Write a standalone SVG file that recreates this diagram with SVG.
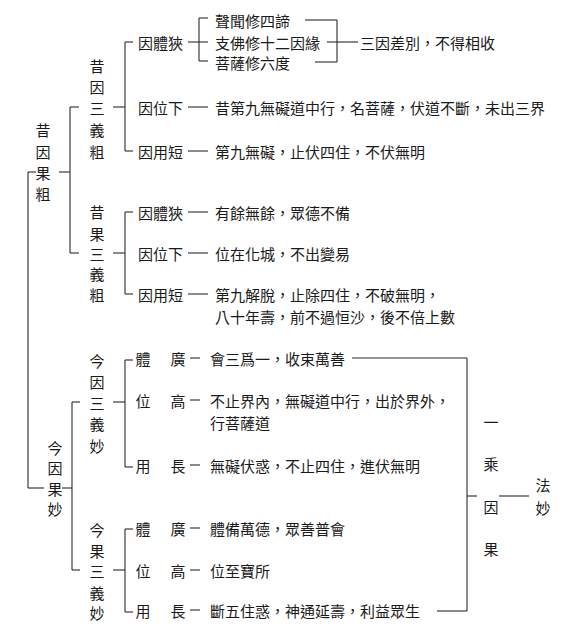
<svg xmlns="http://www.w3.org/2000/svg" width="574" height="639" viewBox="0 0 574 639">
<style>
text{font-family:"Noto Sans CJK TC","Noto Sans CJK SC",sans-serif;font-size:15px;fill:#1a1a1a;dominant-baseline:central}
.m{text-anchor:middle}
.c line{stroke:#2a2a2a;stroke-width:1.1}
</style>
<rect width="574" height="639" fill="#fff"/>
<g class="c" id="connectors">
<line x1="28" y1="172" x2="28" y2="488"/>
<line x1="28" y1="172" x2="36" y2="172"/>
<line x1="28" y1="488" x2="44" y2="488"/>
<line x1="59" y1="172" x2="70" y2="172"/>
<line x1="70" y1="107" x2="70" y2="253"/>
<line x1="70" y1="107" x2="79" y2="107"/>
<line x1="70" y1="253" x2="79" y2="253"/>
<line x1="113" y1="107" x2="125" y2="107"/>
<line x1="125" y1="42" x2="125" y2="151"/>
<line x1="125" y1="42" x2="133" y2="42"/>
<line x1="125" y1="151" x2="133" y2="151"/>
<line x1="188" y1="42" x2="208" y2="42"/>
<line x1="199" y1="18" x2="199" y2="61"/>
<line x1="199" y1="18" x2="208" y2="18"/>
<line x1="199" y1="61" x2="208" y2="61"/>
<line x1="305" y1="20" x2="337" y2="20"/>
<line x1="315" y1="62" x2="337" y2="62"/>
<line x1="337" y1="20" x2="337" y2="62"/>
<line x1="327" y1="42" x2="358" y2="42"/>
<line x1="188" y1="107" x2="208" y2="107"/>
<line x1="188" y1="151" x2="208" y2="151"/>
<line x1="113" y1="253" x2="125" y2="253"/>
<line x1="125" y1="212" x2="125" y2="294"/>
<line x1="125" y1="212" x2="133" y2="212"/>
<line x1="125" y1="294" x2="133" y2="294"/>
<line x1="188" y1="212" x2="208" y2="212"/>
<line x1="188" y1="253" x2="208" y2="253"/>
<line x1="188" y1="294" x2="208" y2="294"/>
<line x1="62" y1="488" x2="72" y2="488"/>
<line x1="72" y1="402" x2="72" y2="570"/>
<line x1="72" y1="402" x2="80" y2="402"/>
<line x1="72" y1="570" x2="80" y2="570"/>
<line x1="113" y1="402" x2="125" y2="402"/>
<line x1="125" y1="360" x2="125" y2="467"/>
<line x1="125" y1="360" x2="133" y2="360"/>
<line x1="125" y1="467" x2="133" y2="467"/>
<line x1="190" y1="358" x2="200" y2="358"/>
<line x1="190" y1="400" x2="200" y2="400"/>
<line x1="190" y1="465" x2="200" y2="465"/>
<line x1="113" y1="570" x2="125" y2="570"/>
<line x1="125" y1="529" x2="125" y2="612"/>
<line x1="125" y1="529" x2="133" y2="529"/>
<line x1="125" y1="612" x2="133" y2="612"/>
<line x1="190" y1="528" x2="200" y2="528"/>
<line x1="190" y1="570" x2="200" y2="570"/>
<line x1="190" y1="610" x2="200" y2="610"/>
<line x1="352" y1="358" x2="467" y2="358"/>
<line x1="467" y1="358" x2="467" y2="611"/>
<line x1="437" y1="611" x2="467" y2="611"/>
<line x1="467" y1="496" x2="477" y2="496"/>
<line x1="499" y1="496" x2="529" y2="496"/>
</g>
<g id="n-xiyinguocu"><text class="m" x="43" y="129">昔</text><text class="m" x="43" y="151">因</text><text class="m" x="43" y="172">果</text><text class="m" x="43" y="193">粗</text></g>
<g id="n-xiyin"><text class="m" x="97" y="65">昔</text><text class="m" x="97" y="86">因</text><text class="m" x="97" y="107">三</text><text class="m" x="97" y="129">義</text><text class="m" x="97" y="151">粗</text></g>
<g id="n-xiyin-ti"><text x="138" y="42">因體狹</text></g>
<g id="n-shengwen"><text x="215" y="20">聲聞修四諦</text></g>
<g id="n-zhifo"><text x="215" y="42">支佛修十二因緣</text></g>
<g id="n-pusa"><text x="215" y="62">菩薩修六度</text></g>
<g id="n-sanyin"><text x="360" y="42">三因差別，不得相收</text></g>
<g id="n-xiyin-wei"><text x="138" y="107">因位下</text><text x="215" y="107">昔第九無礙道中行，名菩薩，伏道不斷，未出三界</text></g>
<g id="n-xiyin-yong"><text x="138" y="151">因用短</text><text x="215" y="151">第九無礙，止伏四住，不伏無明</text></g>
<g id="n-xiguo"><text class="m" x="97" y="211">昔</text><text class="m" x="97" y="233">果</text><text class="m" x="97" y="253">三</text><text class="m" x="97" y="273">義</text><text class="m" x="97" y="294">粗</text></g>
<g id="n-xiguo-ti"><text x="138" y="212">因體狹</text><text x="215" y="212">有餘無餘，眾德不備</text></g>
<g id="n-xiguo-wei"><text x="138" y="253">因位下</text><text x="215" y="253">位在化城，不出變易</text></g>
<g id="n-xiguo-yong"><text x="138" y="294">因用短</text><text x="215" y="294">第九解脫，止除四住，不破無明，</text><text x="215" y="316">八十年壽，前不過恒沙，後不倍上數</text></g>
<g id="n-jinyinguomiao"><text class="m" x="55" y="447">今</text><text class="m" x="55" y="467">因</text><text class="m" x="55" y="488">果</text><text class="m" x="55" y="508">妙</text></g>
<g id="n-jinyin"><text class="m" x="97" y="360">今</text><text class="m" x="97" y="381">因</text><text class="m" x="97" y="402">三</text><text class="m" x="97" y="423">義</text><text class="m" x="97" y="445">妙</text></g>
<g id="n-jinyin-ti"><text class="m" x="143" y="358">體</text><text class="m" x="178" y="358">廣</text><text x="210" y="358">會三爲一，收束萬善</text></g>
<g id="n-jinyin-wei"><text class="m" x="143" y="400">位</text><text class="m" x="178" y="400">高</text><text x="210" y="400">不止界內，無礙道中行，出於界外，</text><text x="210" y="422">行菩薩道</text></g>
<g id="n-jinyin-yong"><text class="m" x="143" y="465">用</text><text class="m" x="178" y="465">長</text><text x="210" y="465">無礙伏惑，不止四住，進伏無明</text></g>
<g id="n-jinguo"><text class="m" x="97" y="529">今</text><text class="m" x="97" y="550">果</text><text class="m" x="97" y="570">三</text><text class="m" x="97" y="592">義</text><text class="m" x="97" y="612">妙</text></g>
<g id="n-jinguo-ti"><text class="m" x="143" y="528">體</text><text class="m" x="178" y="528">廣</text><text x="210" y="528">體備萬德，眾善普會</text></g>
<g id="n-jinguo-wei"><text class="m" x="143" y="570">位</text><text class="m" x="178" y="570">高</text><text x="210" y="570">位至寶所</text></g>
<g id="n-jinguo-yong"><text class="m" x="143" y="610">用</text><text class="m" x="178" y="610">長</text><text x="210" y="610">斷五住惑，神通延壽，利益眾生</text></g>
<g id="n-yicheng"><text class="m" x="491" y="421">一</text><text class="m" x="491" y="463">乘</text><text class="m" x="491" y="506">因</text><text class="m" x="491" y="548">果</text></g>
<g id="n-famiao"><text class="m" x="543" y="484">法</text><text class="m" x="543" y="507">妙</text></g>
</svg>
